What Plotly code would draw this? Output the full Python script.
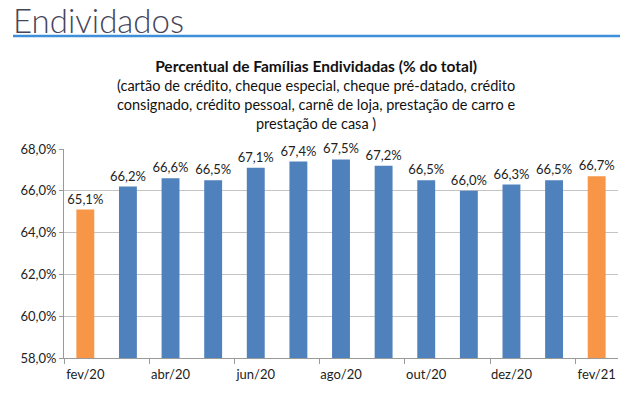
import plotly.graph_objects as go

categories = ["fev/20", "mar/20", "abr/20", "mai/20", "jun/20", "jul/20", "ago/20",
              "set/20", "out/20", "nov/20", "dez/20", "jan/21", "fev/21"]
values = [65.1, 66.2, 66.6, 66.5, 67.1, 67.4, 67.5, 67.2, 66.5, 66.0, 66.3, 66.5, 66.7]
highlight = [True] + [False] * 11 + [True]
tick_labels = ["fev/20", "abr/20", "jun/20", "ago/20", "out/20", "dez/20", "fev/21"]

BLUE = "#4F81BD"
ORANGE = "#F79646"
FONT = "Lato"

colors = [ORANGE if h else BLUE for h in highlight]
xs = list(range(len(categories)))
label_pos = [i for i, c in enumerate(categories) if c in tick_labels]
boundaries = [p - 0.5 for p in label_pos]

W, H, L, R, T, B = 631, 393, 64, 13, 149, 35
PH = H - T - B
PW = W - L - R


def py(p):
    """pixel row -> paper y"""
    return (H - B - p) / PH


def px(p):
    """pixel column -> paper x"""
    return (p - L) / PW


fig = go.Figure()
fig.add_trace(go.Bar(
    x=xs, y=values, marker=dict(color=colors, line=dict(width=0)),
    text=values, texttemplate="%{y:.1f}%", textposition="outside",
    constraintext="none",
    textfont=dict(family=FONT, size=13, color="#222222"),
    cliponaxis=False, width=0.42, hoverinfo="skip",
))

fig.update_layout(
    width=W, height=H,
    margin=dict(l=L, r=R, t=T, b=B, autoexpand=False),
    paper_bgcolor="white", plot_bgcolor="white",
    separators=",.",
    showlegend=False,
    font=dict(family=FONT, size=13, color="#222222"),
)
fig.update_xaxes(
    range=[-0.5, len(categories) - 0.5], automargin=False,
    tickmode="array", tickvals=label_pos, ticktext=tick_labels,
    ticks="", showgrid=False, zeroline=False,
    showline=True, linecolor="#9A9A9A", linewidth=1,
    tickfont=dict(family=FONT, size=13, color="#222222"),
    minor=dict(tickmode="array", tickvals=boundaries, ticks="outside",
               ticklen=5, tickcolor="#9A9A9A", showgrid=False),
    ticklabelstandoff=4,
)
fig.update_yaxes(
    range=[58, 68], dtick=2, tick0=58, automargin=False,
    tickformat=".1f", ticksuffix="%",
    showgrid=True, gridcolor="#C4C4C4", gridwidth=1, zeroline=False,
    showline=True, linecolor="#9A9A9A", linewidth=1,
    ticks="outside", ticklen=4, tickcolor="#9A9A9A",
    tickfont=dict(family=FONT, size=13, color="#222222"),
)

# page heading
fig.add_annotation(
    text="Endividados", xref="paper", yref="paper",
    x=px(11), y=py(20), xanchor="left", yanchor="middle",
    showarrow=False, font=dict(family=FONT, size=33, color="#45455A", weight=300),
)
fig.add_shape(type="line", xref="paper", yref="paper",
              x0=px(13), x1=px(620), y0=py(36), y1=py(36),
              line=dict(color="#3C8FD8", width=2.5))
# chart title and subtitle
fig.add_annotation(
    text="<b><span style='font-size:15.5px'>Percentual de Famílias Endividadas (% do total)</span></b><br>"
         "(cartão de crédito, cheque especial, cheque pré-datado, crédito<br>"
         "consignado, crédito pessoal, carnê de loja, prestação de carro e<br>"
         "prestação de casa )",
    xref="paper", yref="paper", x=0.455, y=py(94),
    xanchor="center", yanchor="middle", showarrow=False, align="center",
    font=dict(family=FONT, size=14.5, color="#111111"),
)

fig.write_html("out.html", config={"displayModeBar": False},
               post_script="document.body.style.margin='0';")
